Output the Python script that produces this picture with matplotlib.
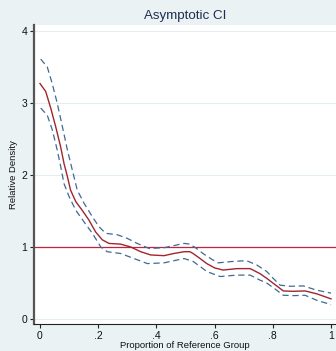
import matplotlib
matplotlib.use("Agg")
import matplotlib.pyplot as plt

plt.rcParams['font.family'] = ['Liberation Sans', 'DejaVu Sans']

# relative density estimate
x_mid = [0.0, 0.0196, 0.0368, 0.054, 0.071, 0.0825, 0.094, 0.105, 0.123, 0.145,
         0.168, 0.191, 0.214, 0.237, 0.277, 0.312, 0.346, 0.380, 0.426, 0.460,
         0.495, 0.515, 0.526, 0.550, 0.573, 0.600, 0.629, 0.676, 0.722, 0.756,
         0.779, 0.810, 0.836, 0.870, 0.911, 0.951, 1.0]
y_mid = [3.27, 3.16, 2.93, 2.67, 2.39, 2.16, 1.98, 1.79, 1.63, 1.51,
         1.375, 1.21, 1.10, 1.05, 1.04, 1.00, 0.935, 0.89, 0.88, 0.91,
         0.935, 0.935, 0.91, 0.84, 0.77, 0.71, 0.68, 0.70, 0.70, 0.63,
         0.565, 0.47, 0.39, 0.385, 0.39, 0.35, 0.28]

# upper confidence band
x_up = [0.0024, 0.025, 0.042, 0.059, 0.077, 0.094, 0.111, 0.128, 0.151, 0.180,
        0.203, 0.226, 0.266, 0.300, 0.334, 0.375, 0.426, 0.472, 0.495, 0.515,
        0.538, 0.560, 0.590, 0.612, 0.663, 0.710, 0.745, 0.779, 0.800, 0.825,
        0.860, 0.905, 0.951, 1.0]
y_up = [3.61, 3.50, 3.27, 3.00, 2.67, 2.35, 2.07, 1.79, 1.61, 1.42,
        1.28, 1.19, 1.17, 1.12, 1.05, 0.98, 0.99, 1.03, 1.05, 1.04,
        0.98, 0.91, 0.83, 0.78, 0.80, 0.81, 0.75, 0.66, 0.57, 0.47,
        0.455, 0.46, 0.40, 0.36]

# lower confidence band
x_lo = [0.0024, 0.025, 0.042, 0.059, 0.071, 0.0825, 0.100, 0.123, 0.151, 0.180,
        0.209, 0.231, 0.277, 0.323, 0.369, 0.426, 0.472, 0.495, 0.526, 0.550,
        0.573, 0.619, 0.676, 0.722, 0.756, 0.779, 0.810, 0.836, 0.870, 0.911,
        0.951, 1.0]
y_lo = [2.93, 2.83, 2.63, 2.35, 2.12, 1.88, 1.70, 1.51, 1.35, 1.19,
        1.00, 0.935, 0.91, 0.84, 0.77, 0.78, 0.82, 0.84, 0.80, 0.73,
        0.66, 0.59, 0.61, 0.61, 0.54, 0.50, 0.41, 0.33, 0.325, 0.33,
        0.26, 0.20]

ref_level = 1.0
x_ticks = [0, 0.2, 0.4, 0.6, 0.8, 1.0]
x_ticklabels = ['0', '.2', '.4', '.6', '.8', '1']
y_ticks = [0, 1, 2, 3, 4]

bg = '#EAF2F3'
fig = plt.figure(figsize=(3.36, 3.51), dpi=100, facecolor=bg)
ax = fig.add_axes([34/336, 1-324/351, 1-34/336, (324-25)/351])
ax.set_facecolor('white')

for yt in y_ticks:
    ax.axhline(yt, color='#E4EEF0', lw=0.8, zorder=0)

ax.axhline(ref_level, color='#C0243F', lw=0.9, zorder=2)
ax.plot(x_up, y_up, color='#3F6A93', lw=0.9, dashes=(5, 3), zorder=3)
ax.plot(x_lo, y_lo, color='#3F6A93', lw=0.9, dashes=(5, 3), zorder=3)
ax.plot(x_mid, y_mid, color='#A0262E', lw=1.0, zorder=4)

ax.set_xlim(-0.0206, 1.017)
ax.set_ylim(-0.069, 4.083)
ax.set_xticks(x_ticks)
ax.set_xticklabels(x_ticklabels)
ax.set_yticks(y_ticks)

for s in ['top', 'right']:
    ax.spines[s].set_visible(False)
ax.spines['left'].set_color('#555555')
ax.spines['left'].set_linewidth(1.6)
ax.spines['bottom'].set_color('#222222')
ax.spines['bottom'].set_linewidth(0.8)

ax.tick_params(axis='both', direction='out', length=3, width=0.8, color='#222222',
               labelsize=7.5, pad=2, labelcolor='#111111')

ax.set_xlabel('Proportion of Reference Group', fontsize=6.8, labelpad=0, color='#111111')
ax.set_ylabel('Relative Density', fontsize=6.8, labelpad=2, color='#111111')
ax.set_title('Asymptotic CI', fontsize=9.6, color='#1E2D53', pad=4)

fig.savefig('out.png', dpi=100, facecolor=bg)
